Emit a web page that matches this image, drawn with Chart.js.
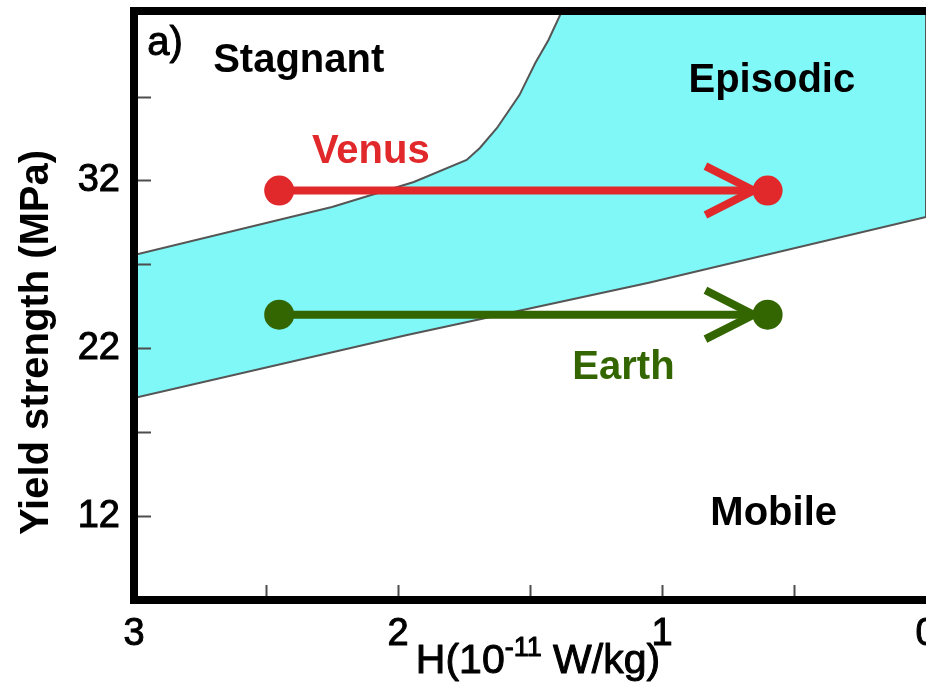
<!DOCTYPE html>
<html>
<head>
<meta charset="utf-8">
<script src="https://cdn.jsdelivr.net/npm/chart.js@4.4.1/dist/chart.umd.min.js"></script>
<style>
  html, body { margin: 0; padding: 0; background: #ffffff; }
  canvas { display: block; }
</style>
</head>
<body>
<canvas id="regimeChart" width="926" height="686"></canvas>
<script>
// Internal heating H (1e-11 W/kg) and yield strength (MPa)
const lowerBoundaryH = [3, 1.97, 1.05, 0];
const lowerBoundaryY = [19.04, 22.78, 25.9, 29.82];
const upperBoundaryH = [3, 2.25, 1.94, 1.74, 1.69, 1.625, 1.54, 1.48, 1.43, 1.386, 1.375];
const upperBoundaryY = [27.56, 30.42, 31.91, 33.22, 33.94, 35.13, 37.09, 39.0, 40.37, 41.86, 42.1];

const venusH = [2.45, 0.6];
const venusY = [31.4, 31.4];
const earthH = [2.45, 0.6];
const earthY = [24.0, 24.0];

const xMajorTicks = [3, 2, 1, 0];
const xMinorTicks = [2.5, 1.5, 0.5];
const yMajorTicks = [12, 22, 32];
const yMinorTicks = [17, 27, 37];

const X_MIN = 0, X_MAX = 3;
const Y_MIN = 7, Y_MAX = 42.1;

const FONT = '"Liberation Sans", Arial, Helvetica, sans-serif';
const RED = '#e1282b';
const GREEN = '#336600';
const CYAN = '#80f8f8';

// Text annotations placed in data coordinates
const annotations = [
  { text: 'a)',       h: 2.95,  y: 39.5,  color: '#000', weight: 'normal', align: 'left' },
  { text: 'Stagnant', h: 2.376, y: 38.46, color: '#000', weight: 'bold',   align: 'center' },
  { text: 'Episodic', h: 0.584, y: 37.27, color: '#000', weight: 'bold',   align: 'center' },
  { text: 'Venus',    h: 2.103, y: 33.04, color: RED,    weight: 'bold',   align: 'center' },
  { text: 'Earth',    h: 1.146, y: 20.17, color: GREEN,  weight: 'bold',   align: 'center' },
  { text: 'Mobile',   h: 0.577, y: 11.47, color: '#000', weight: 'bold',   align: 'center' }
];

// Closed outline of the episodic field: lower boundary left to right,
// up the right edge, then back along the upper boundary.
function episodicOutline() {
  const pts = [];
  lowerBoundaryH.forEach((h, i) => pts.push({ x: h, y: lowerBoundaryY[i] }));
  pts.push({ x: 0, y: Y_MAX });
  for (let i = upperBoundaryH.length - 1; i >= 0; i--) {
    pts.push({ x: upperBoundaryH[i], y: upperBoundaryY[i] });
  }
  pts.push({ x: lowerBoundaryH[0], y: lowerBoundaryY[0] });
  return pts;
}

function track(hs, ys) {
  return hs.map((h, i) => ({ x: h, y: ys[i] }));
}

// regular-weight text gets a thin outline so it reads as a medium weight
function heavyText(ctx, s, px, py, color) {
  ctx.fillStyle = color;
  ctx.strokeStyle = color;
  ctx.lineWidth = 1;
  ctx.lineJoin = 'round';
  ctx.fillText(s, px, py);
  ctx.strokeText(s, px, py);
}

const decorations = {
  id: 'decorations',
  afterDatasetsDraw(chart) {
    const ctx = chart.ctx;
    // open arrowheads just before the end marker of each track
    chart.data.datasets.forEach((ds, i) => {
      if (!ds.arrowHead) return;
      const pts = chart.getDatasetMeta(i).data;
      const a = pts[pts.length - 2], b = pts[pts.length - 1];
      const ang = Math.atan2(b.y - a.y, b.x - a.x);
      const tipX = b.x - 14 * Math.cos(ang), tipY = b.y - 14 * Math.sin(ang);
      const len = 54, spread = 0.47;
      ctx.save();
      ctx.strokeStyle = ds.borderColor;
      ctx.lineWidth = 8;
      ctx.lineCap = 'butt';
      ctx.beginPath();
      ctx.moveTo(tipX - len * Math.cos(ang - spread), tipY - len * Math.sin(ang - spread));
      ctx.lineTo(tipX, tipY);
      ctx.lineTo(tipX - len * Math.cos(ang + spread), tipY - len * Math.sin(ang + spread));
      ctx.stroke();
      ctx.restore();
    });
  },
  afterDraw(chart) {
    const { ctx, chartArea: area, scales: { x, y } } = chart;
    ctx.save();

    // inward tick marks
    ctx.strokeStyle = '#4d4d4d';
    ctx.lineWidth = 2;
    ctx.beginPath();
    [...yMajorTicks, ...yMinorTicks].forEach(v => {
      const py = Math.round(y.getPixelForValue(v)) + 0.5;
      ctx.moveTo(area.left, py);
      ctx.lineTo(area.left + 17, py);
    });
    [...xMinorTicks, 2, 1].forEach(v => {
      const px = Math.round(x.getPixelForValue(v)) + 0.5;
      ctx.moveTo(px, area.bottom);
      ctx.lineTo(px, area.bottom - 15);
    });
    ctx.stroke();

    // heavy frame on left, top and bottom
    ctx.strokeStyle = '#000';
    ctx.lineWidth = 8;
    ctx.lineCap = 'square';
    ctx.beginPath();
    ctx.moveTo(chart.width + 10, area.top);
    ctx.lineTo(area.left, area.top);
    ctx.lineTo(area.left, area.bottom);
    ctx.lineTo(chart.width + 10, area.bottom);
    ctx.stroke();
    ctx.lineCap = 'butt';

    // region and planet labels
    ctx.textBaseline = 'alphabetic';
    annotations.forEach(t => {
      ctx.font = `${t.weight} 40px ${FONT}`;
      ctx.textAlign = t.align;
      const px = x.getPixelForValue(t.h), py = y.getPixelForValue(t.y);
      if (t.weight === 'normal') {
        heavyText(ctx, t.text, px, py, t.color);
      } else {
        ctx.fillStyle = t.color;
        ctx.fillText(t.text, px, py);
      }
    });

    // y axis title
    ctx.save();
    ctx.translate(48, (area.top + area.bottom) / 2 + 37);
    ctx.rotate(-Math.PI / 2);
    ctx.font = `bold 40px ${FONT}`;
    ctx.fillStyle = '#000';
    ctx.textAlign = 'center';
    ctx.fillText('Yield strength (MPa)', 0, 0);
    ctx.restore();

    // x axis title with superscript exponent
    const parts = [
      { s: 'H(10', size: 41, dy: 0 },
      { s: '-11', size: 27, dy: -17 },
      { s: ' W/kg)', size: 41, dy: 0 }
    ];
    let total = 0;
    parts.forEach(p => { ctx.font = `${p.size}px ${FONT}`; p.w = ctx.measureText(p.s).width; total += p.w; });
    let cx = 538 - total / 2;
    const base = 673;
    ctx.textAlign = 'left';
    parts.forEach(p => {
      ctx.font = `${p.size}px ${FONT}`;
      heavyText(ctx, p.s, cx, base + p.dy, '#000');
      cx += p.w;
    });

    ctx.restore();
  }
};

const noPad = scale => {
  scale.paddingLeft = 0; scale.paddingRight = 0;
  scale.paddingTop = 0; scale.paddingBottom = 0;
};

const tickStyle = {
  autoSkip: false,
  color: '#000',
  textStrokeColor: '#000',
  textStrokeWidth: 1,
  font: { family: FONT, size: 38 },
  callback: v => String(v)
};

new Chart(document.getElementById('regimeChart'), {
  type: 'scatter',
  data: {
    datasets: [
      {
        label: 'Episodic',
        data: episodicOutline(),
        showLine: true,
        tension: 0,
        fill: 'shape',
        backgroundColor: CYAN,
        borderColor: '#555555',
        borderWidth: 2,
        pointRadius: 0,
        order: 3
      },
      {
        label: 'Venus',
        data: track(venusH, venusY),
        showLine: true,
        borderColor: RED,
        backgroundColor: RED,
        borderWidth: 8,
        pointRadius: 15,
        pointBorderWidth: 0,
        pointBackgroundColor: RED,
        arrowHead: true,
        order: 1
      },
      {
        label: 'Earth',
        data: track(earthH, earthY),
        showLine: true,
        borderColor: GREEN,
        backgroundColor: GREEN,
        borderWidth: 8,
        pointRadius: 15,
        pointBorderWidth: 0,
        pointBackgroundColor: GREEN,
        arrowHead: true,
        order: 2
      }
    ]
  },
  options: {
    responsive: false,
    animation: false,
    devicePixelRatio: 1,
    layout: { autoPadding: false, padding: { top: 11, right: 0, bottom: 0, left: 0 } },
    plugins: { legend: { display: false }, tooltip: { enabled: false } },
    scales: {
      x: {
        type: 'linear',
        position: 'bottom',
        reverse: true,
        min: X_MIN,
        max: X_MAX,
        grid: { display: false, drawTicks: false },
        border: { display: false },
        afterBuildTicks: s => { s.ticks = xMajorTicks.map(v => ({ value: v })); },
        afterFit: s => { s.height = 86; noPad(s); },
        ticks: Object.assign({ maxRotation: 0, padding: 12 }, tickStyle)
      },
      y: {
        type: 'linear',
        min: Y_MIN,
        max: Y_MAX,
        grid: { display: false, drawTicks: false },
        border: { display: false },
        afterBuildTicks: s => { s.ticks = yMajorTicks.map(v => ({ value: v })); },
        afterFit: s => { s.width = 134; noPad(s); },
        ticks: Object.assign({ padding: 14 }, tickStyle)
      }
    }
  },
  plugins: [decorations]
});
</script>
</body>
</html>
